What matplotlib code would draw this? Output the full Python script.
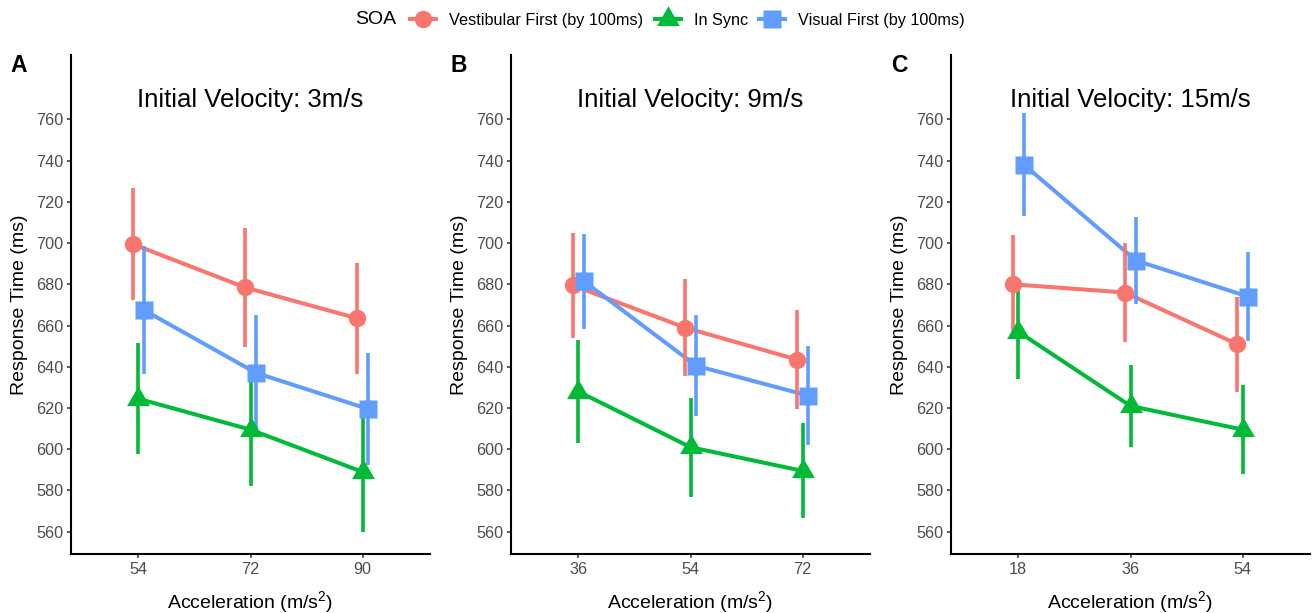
import matplotlib
matplotlib.use("Agg")
import matplotlib.pyplot as plt
from matplotlib.lines import Line2D

plt.rcParams['font.family'] = ['Liberation Sans', 'DejaVu Sans']
plt.rcParams['mathtext.fontset'] = 'custom'
plt.rcParams['mathtext.rm'] = 'Liberation Sans'
plt.rcParams['mathtext.default'] = 'regular'

# SOA conditions
soa_labels = ['Vestibular First (by 100ms)', 'In Sync', 'Visual First (by 100ms)']
soa_colors = ['#F8766D', '#00BA38', '#619CFF']
soa_markers = ['o', (3, 0, 0), 's']
soa_msizes = [12.5, 19, 12.5]
soa_dodge = [-0.05, 0.0, 0.05]

# one panel per initial velocity
panel_tags = ['A', 'B', 'C']
velocities = ['3m/s', '9m/s', '15m/s']
accel_levels = [[54, 72, 90], [36, 54, 72], [18, 36, 54]]

# mean response time (ms), rows = SOA (vestibular, sync, visual)
rt_3ms = [[699.5, 678.5, 663.5], [624.5, 609.5, 589.0], [667.5, 637.0, 619.5]]
rt_9ms = [[679.5, 659.0, 643.5], [628.0, 601.0, 589.5], [681.5, 640.5, 626.0]]
rt_15ms = [[680.0, 676.0, 651.0], [657.0, 621.0, 609.5], [738.0, 691.5, 674.0]]

# 95% CI half widths (ms)
ci_3ms = [[27.0, 29.0, 27.0], [27.0, 27.5, 29.0], [31.0, 28.0, 27.0]]
ci_9ms = [[25.5, 23.5, 24.0], [25.0, 24.0, 23.0], [23.0, 24.5, 24.0]]
ci_15ms = [[24.0, 24.0, 23.0], [23.0, 20.0, 21.5], [25.0, 21.0, 21.5]]

rt_all = [rt_3ms, rt_9ms, rt_15ms]
ci_all = [ci_3ms, ci_9ms, ci_15ms]
y_ticks = list(range(560, 761, 20))

W, H = 1312, 613
fig = plt.figure(figsize=(W / 100, H / 100), dpi=100)

ax_left_px = [71, 511, 951]
ax_w_px, ax_top_px, ax_bot_px = 359, 55, 554

for p in range(3):
    ax = fig.add_axes([ax_left_px[p] / W, 1 - ax_bot_px / H,
                       ax_w_px / W, (ax_bot_px - ax_top_px) / H])
    x_pos = [1, 2, 3]
    for s in range(3):
        xs = [x + soa_dodge[s] for x in x_pos]
        ys = rt_all[p][s]
        ax.plot(xs, ys, color=soa_colors[s], lw=2.9, zorder=2,
                solid_capstyle='butt')
        ax.errorbar(xs, ys, yerr=ci_all[p][s], fmt='none',
                    ecolor=soa_colors[s], elinewidth=2.6, capsize=0, zorder=3)
        ax.plot(xs, ys, ls='none', marker=soa_markers[s], ms=soa_msizes[s],
                color=soa_colors[s], mec='none', zorder=4)

    ax.set_xlim(0.4, 3.6)
    ax.set_ylim(549.2, 791.2)
    ax.set_xticks(x_pos)
    ax.set_xticklabels([str(a) for a in accel_levels[p]])
    ax.set_yticks(y_ticks)
    ax.tick_params(length=3, width=1.1, color='#333333', labelcolor='#4D4D4D',
                   labelsize=11.7, pad=2.5)
    for side in ['top', 'right']:
        ax.spines[side].set_visible(False)
    for side in ['left', 'bottom']:
        ax.spines[side].set_linewidth(1.5)
        ax.spines[side].set_color('black')

    ax.text(2.0, 769.5, 'Initial Velocity: ' + velocities[p], ha='center',
            va='center', fontsize=18.5, color='black')

    ax.set_ylabel('Response Time (ms)', fontsize=14)
    ax.yaxis.set_label_coords(-0.12, 0.5)
    ax.set_xlabel('Acceleration (m/s$^2$)', fontsize=14)
    ax.xaxis.set_label_coords(0.5, -0.07)

    fig.text((ax_left_px[p] - 52) / W, 1 - 66 / H, panel_tags[p],
             fontsize=16.5, fontweight='bold', ha='center', va='center')

# legend across the top
handles = [Line2D([0], [0], color=c, lw=2.9, marker=m, ms=ms, mec='none')
           for c, m, ms in zip(soa_colors, soa_markers, soa_msizes)]
fig.text(355 / W, 1 - 20 / H, 'SOA', fontsize=14, ha='left', va='center')
fig.legend(handles, soa_labels, loc='center left',
           bbox_to_anchor=(410 / W, 1 - 20 / H), ncol=3, frameon=False,
           fontsize=11.7, handlelength=1.6, handletextpad=0.8,
           columnspacing=0.7, borderpad=0, borderaxespad=0)

fig.savefig('out.png', dpi=100)
